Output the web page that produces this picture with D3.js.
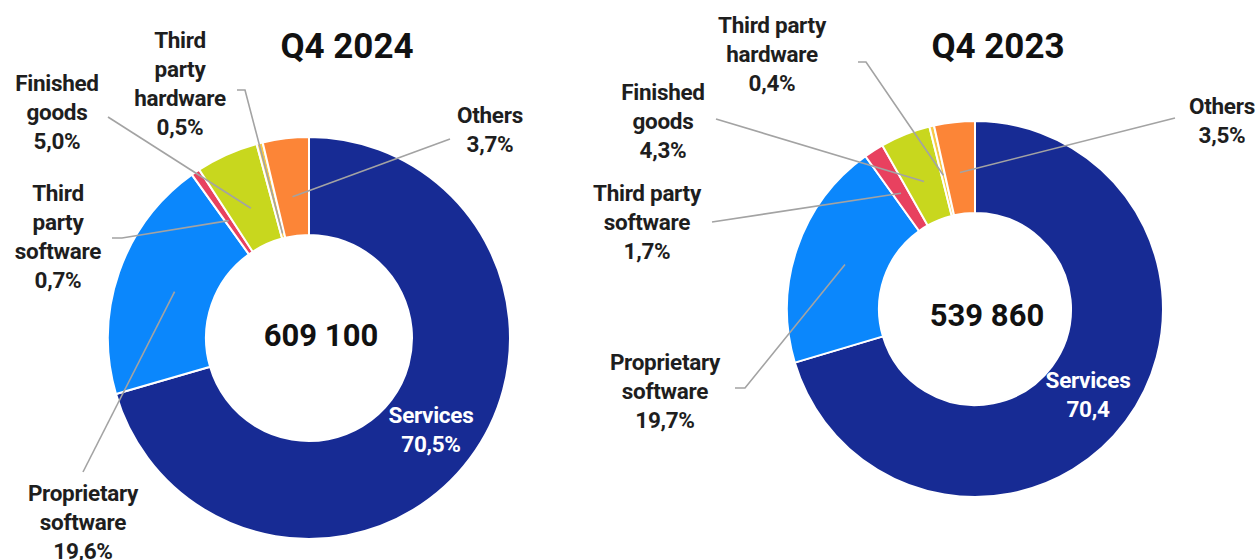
<!DOCTYPE html>
<html>
<head>
<meta charset="utf-8">
<script src="https://cdn.jsdelivr.net/npm/d3@7"></script>
<style>
  html, body { margin: 0; padding: 0; background: #fff; }
  svg { display: block; font-family: Roboto, "Noto Sans", sans-serif; font-weight: 700; }
</style>
</head>
<body>
<svg id="chart" width="1258" height="560"></svg>
<script>
// data
const categories = ["Services", "Proprietary software", "Third party software", "Finished goods", "Third party hardware", "Others"];
const share2024 = [70.5, 19.6, 0.7, 5.0, 0.5, 3.7];
const share2023 = [70.4, 19.7, 1.7, 4.3, 0.4, 3.5];
const periods = ["Q4 2024", "Q4 2023"];
const totals = [609100, 539860];
const colors = ["#172b94", "#0b87fc", "#e8415f", "#c8d71e", "#f7c948", "#fc8537"];

const locale = d3.formatLocale({decimal: ",", thousands: " ", grouping: [3], currency: ["", ""]});
const fmtTotal = locale.format(",d");
const fmtShare = locale.format(".1f");

// layout of each donut (positions only)
const layouts = [
	{
		cx: 309, cy: 338, rOut: 201, rIn: 103, titleX: 347, titleY: 45, centerY: 335,
		labels: [
			{lines: ["Services"], x: 431, y: 415, color: "#fff", pct: true},
			{lines: ["Proprietary", "software"], x: 83, y: 493, pct: true, from: [[83, 472]], rr: 0.4},
			{lines: ["Third", "party", "software"], x: 58, y: 193, pct: true, from: [[112, 238], [122, 238]], rr: 0.4},
			{lines: ["Finished", "goods"], x: 57, y: 83, pct: true, from: [[108, 117]], rr: 0.4},
			{lines: ["Third", "party", "hardware"], x: 180, y: 40, pct: true, from: [[237, 90], [245, 90]], rr: 0.05},
			{lines: ["Others"], x: 490, y: 115, pct: true, from: [[450, 139]], rr: 0.4}
		]
	},
	{
		cx: 975, cy: 309, rOut: 188, rIn: 96, titleX: 998, titleY: 45, centerY: 315,
		labels: [
			{lines: ["Services"], x: 1088, y: 380, color: "#fff", pct: false},
			{lines: ["Proprietary", "software"], x: 665, y: 362, pct: true, from: [[735, 388], [745, 388]], rr: 0.45},
			{lines: ["Third party", "software"], x: 647, y: 193, pct: true, from: [[712, 222]], rr: 0.45},
			{lines: ["Finished", "goods"], x: 663, y: 92, pct: true, from: [[716, 119]], rr: 0.45},
			{lines: ["Third party", "hardware"], x: 772, y: 25, pct: true, from: [[858, 62], [866, 62]], rr: 0.45},
			{lines: ["Others"], x: 1222, y: 106, pct: true, from: [[1175, 118]], rr: 0.45}
		]
	}
];

const svg = d3.select("#chart");
const lineStep = 29;

function drawDonut(values, period, total, lay) {
	var g = svg.append("g").attr("transform", "translate(" + lay.cx + "," + lay.cy + ")");
	var pie = d3.pie().sort(null).startAngle(0).endAngle(2 * Math.PI);
	var arcs = pie(values);
	var arc = d3.arc().innerRadius(lay.rIn).outerRadius(lay.rOut);

	g.selectAll("path.slice").data(arcs).enter().append("path")
		.attr("class", "slice")
		.attr("d", arc)
		.attr("fill", (d, i) => colors[i])
		.attr("stroke", "#fff")
		.attr("stroke-width", 2)
		.attr("stroke-linejoin", "miter");

	// leader lines
	arcs.forEach(function(d, i) {
		var lab = lay.labels[i];
		if (!lab.from) return;
		var r = lay.rIn + lab.rr * (lay.rOut - lay.rIn);
		var c = d3.arc().innerRadius(r).outerRadius(r).centroid(d);
		var pts = lab.from.map(p => [p[0] - lay.cx, p[1] - lay.cy]);
		pts.push(c);
		g.append("path")
			.attr("d", d3.line()(pts))
			.attr("fill", "none")
			.attr("stroke", "#a3a3a3")
			.attr("stroke-width", 1.6);
	});

	// labels
	arcs.forEach(function(d, i) {
		var lab = lay.labels[i];
		var lines = lab.lines.concat([fmtShare(values[i]) + (lab.pct ? "%" : "")]);
		var t = svg.append("text")
			.attr("text-anchor", "middle")
			.attr("font-size", 22.5)
			.attr("letter-spacing", -0.3)
			.attr("fill", lab.color || "#1e1e1e");
		lines.forEach(function(s, k) {
			t.append("tspan")
				.attr("x", lab.x)
				.attr("y", lab.y + k * lineStep)
				.attr("dy", "0.36em")
				.text(s);
		});
	});

	svg.append("text")
		.attr("x", lay.titleX).attr("y", lay.titleY).attr("dy", "0.36em")
		.attr("text-anchor", "middle")
		.attr("font-size", 35)
		.attr("fill", "#111")
		.text(period);

	svg.append("text")
		.attr("x", lay.cx + 12).attr("y", lay.centerY).attr("dy", "0.36em")
		.attr("text-anchor", "middle")
		.attr("font-size", 31)
		.attr("fill", "#111")
		.text(fmtTotal(total));
}

drawDonut(share2024, periods[0], totals[0], layouts[0]);
drawDonut(share2023, periods[1], totals[1], layouts[1]);
</script>
</body>
</html>
